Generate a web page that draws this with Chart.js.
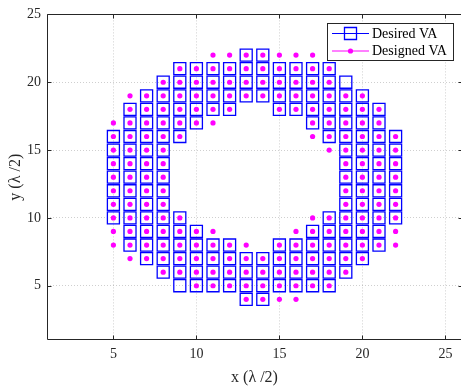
<!DOCTYPE html>
<html><head><meta charset="utf-8">
<script src="https://cdn.jsdelivr.net/npm/chart.js@4/dist/chart.umd.min.js"></script>
<style>html,body{margin:0;padding:0;background:#fff;overflow:hidden;}</style>
</head><body>
<canvas id="c" width="480" height="387"></canvas>
<script>
// ---- data ----
const rowY = [22, 21, 20, 19, 18, 17, 16, 15, 14, 13, 12, 11, 10, 9, 8, 7, 6, 5, 4];
const desiredCols = [
  [13, 14],
  [9, 10, 11, 12, 13, 14, 15, 16, 17, 18],
  [8, 9, 10, 11, 12, 13, 14, 15, 16, 17, 18, 19],
  [7, 8, 9, 10, 11, 12, 13, 14, 15, 16, 17, 18, 19, 20],
  [6, 7, 8, 9, 10, 11, 12, 15, 16, 17, 18, 19, 20, 21],
  [6, 7, 8, 9, 10, 17, 18, 19, 20, 21],
  [5, 6, 7, 8, 9, 18, 19, 20, 21, 22],
  [5, 6, 7, 8, 19, 20, 21, 22],
  [5, 6, 7, 8, 19, 20, 21, 22],
  [5, 6, 7, 8, 19, 20, 21, 22],
  [5, 6, 7, 8, 19, 20, 21, 22],
  [5, 6, 7, 8, 19, 20, 21, 22],
  [5, 6, 7, 8, 9, 18, 19, 20, 21, 22],
  [6, 7, 8, 9, 10, 17, 18, 19, 20, 21],
  [6, 7, 8, 9, 10, 11, 12, 15, 16, 17, 18, 19, 20, 21],
  [7, 8, 9, 10, 11, 12, 13, 14, 15, 16, 17, 18, 19, 20],
  [8, 9, 10, 11, 12, 13, 14, 15, 16, 17, 18, 19],
  [9, 10, 11, 12, 13, 14, 15, 16, 17, 18],
  [13, 14]
];
const designedCols = [
  [11, 12, 13, 14, 15, 16, 17],
  [9, 10, 11, 12, 13, 14, 15, 16, 17, 18],
  [8, 9, 10, 11, 12, 13, 14, 15, 16, 17, 18],
  [6, 7, 8, 9, 10, 11, 12, 13, 14, 15, 16, 17, 18, 19, 20],
  [6, 7, 8, 9, 10, 11, 12, 15, 16, 17, 18, 19, 20, 21],
  [5, 6, 7, 8, 9, 10, 11, 17, 18, 19, 20, 21],
  [5, 6, 7, 8, 9, 17, 18, 19, 20, 21, 22],
  [5, 6, 7, 8, 18, 19, 20, 21, 22],
  [5, 6, 7, 8, 19, 20, 21, 22],
  [5, 6, 7, 8, 19, 20, 21, 22],
  [5, 6, 7, 8, 19, 20, 21, 22],
  [5, 6, 7, 8, 19, 20, 21, 22],
  [5, 6, 7, 8, 9, 17, 18, 19, 20, 21, 22],
  [5, 6, 7, 8, 9, 10, 11, 16, 17, 18, 19, 20, 21, 22],
  [5, 6, 7, 8, 9, 10, 11, 12, 13, 15, 16, 17, 18, 19, 20, 21, 22],
  [6, 7, 8, 9, 10, 11, 12, 13, 14, 15, 16, 17, 18, 19, 20],
  [8, 9, 10, 11, 12, 13, 14, 15, 16, 17, 18, 19],
  [10, 11, 12, 13, 14, 15, 16, 17, 18],
  [13, 14, 15, 16]
];
const xTicks = [5, 10, 15, 20, 25];
const yTicks = [5, 10, 15, 20, 25];
const xRange = [1, 26];
const yRange = [1, 25];
const seriesNames = ['Desired VA', 'Designed VA'];
const xTitle = 'x (\u03BB /2)';
const yTitle = 'y (\u03BB /2)';

function toPoints(cols) {
  const pts = [];
  rowY.forEach((y, i) => cols[i].forEach(x => pts.push({x: x, y: y})));
  return pts;
}

const FONT = 'Liberation Serif, Times New Roman, serif';
const AX = '#262626';

const framePlugin = {
  id: 'frame',
  afterDatasetsDraw(chart) {
    const ctx = chart.ctx, a = chart.chartArea;
    const xs = chart.scales.x, ys = chart.scales.y;
    const L = Math.round(a.left) + 0.5, R = Math.round(a.right) + 0.5;
    const T = Math.round(a.top) + 0.5, B = Math.round(a.bottom) - 0.5;
    ctx.save();
    ctx.strokeStyle = AX; ctx.lineWidth = 1; ctx.setLineDash([]);
    ctx.beginPath();
    ctx.moveTo(L, B); ctx.lineTo(R, B);
    ctx.moveTo(L, T); ctx.lineTo(R, T);
    ctx.moveTo(L, T); ctx.lineTo(L, B);
    ctx.moveTo(R, T); ctx.lineTo(R, B);
    const tl = 4;
    xs.ticks.forEach(t => {
      const px = Math.round(xs.getPixelForValue(t.value)) + 0.5;
      ctx.moveTo(px, B); ctx.lineTo(px, B - tl);
      ctx.moveTo(px, T); ctx.lineTo(px, T + tl);
    });
    ys.ticks.forEach(t => {
      const py = Math.round(ys.getPixelForValue(t.value)) + 0.5;
      ctx.moveTo(L, py); ctx.lineTo(L + tl, py);
      ctx.moveTo(R, py); ctx.lineTo(R - tl, py);
    });
    ctx.stroke();
    ctx.restore();
  },
  afterDraw(chart) {
    const ctx = chart.ctx;
    const bx = 327.5, by = 23.5, bw = 126, bh = 37;
    ctx.save();
    ctx.fillStyle = '#fff';
    ctx.fillRect(bx, by, bw, bh);
    ctx.strokeStyle = AX; ctx.lineWidth = 1;
    ctx.strokeRect(bx, by, bw, bh);
    chart.data.datasets.forEach((ds, i) => {
      const cy = 33.5 + i * 17.5;
      ctx.strokeStyle = ds.borderColor;
      ctx.lineWidth = 1;
      ctx.beginPath(); ctx.moveTo(332, cy); ctx.lineTo(369, cy); ctx.stroke();
      ctx.fillStyle = ds.backgroundColor;
      ctx.lineWidth = ds.borderWidth;
      Chart.helpers.drawPoint(ctx, {pointStyle: ds.pointStyle, radius: ds.pointRadius, rotation: 0, borderWidth: ds.borderWidth}, 350.5, cy);
      ctx.fillStyle = '#000';
      ctx.font = '14px ' + FONT;
      ctx.textBaseline = 'middle';
      ctx.textAlign = 'left';
      ctx.fillText(ds.label, 372, cy + 0.5);
    });
    ctx.restore();
  }
};

const setTicks = (vals) => (scale) => { scale.ticks = vals.map(v => ({value: v})); };

new Chart(document.getElementById('c'), {
  type: 'scatter',
  data: {
    datasets: [
      {
        label: seriesNames[0],
        data: toPoints(desiredCols),
        pointStyle: 'rect',
        pointRadius: 8.5,
        pointHoverRadius: 8.5,
        borderWidth: 1.3,
        borderColor: '#0000ff',
        backgroundColor: 'rgba(0,0,0,0)',
        order: 2
      },
      {
        label: seriesNames[1],
        data: toPoints(designedCols),
        pointStyle: 'circle',
        pointRadius: 2.6,
        pointHoverRadius: 2.6,
        borderWidth: 0,
        borderColor: '#ff00ff',
        backgroundColor: '#ff00ff',
        order: 1
      }
    ]
  },
  options: {
    responsive: false,
    animation: false,
    devicePixelRatio: 1,
    events: [],
    layout: {padding: {top: 13, right: 18, left: 0, bottom: 0}},
    plugins: {legend: {display: false}, tooltip: {enabled: false}},
    scales: {
      x: {
        type: 'linear', min: xRange[0], max: xRange[1],
        afterBuildTicks: setTicks(xTicks),
        afterFit: (s) => { s.height = 47; },
        grid: {color: 'rgba(38,38,38,0.22)', lineWidth: 1, drawTicks: false},
        border: {display: false, dash: [1, 2]},
        ticks: {color: AX, font: {family: FONT, size: 14}, padding: 6, maxRotation: 0},
        title: {display: true, text: xTitle, color: AX, font: {family: FONT, size: 16}, padding: {top: 0, bottom: 0}}
      },
      y: {
        type: 'linear', min: yRange[0], max: yRange[1],
        afterBuildTicks: setTicks(yTicks),
        afterFit: (s) => { s.width = 47; },
        grid: {color: 'rgba(38,38,38,0.22)', lineWidth: 1, drawTicks: false},
        border: {display: false, dash: [1, 2]},
        ticks: {color: AX, font: {family: FONT, size: 14}, padding: 6},
        title: {display: true, text: yTitle, color: AX, font: {family: FONT, size: 16}, padding: {top: 6, bottom: 0}}
      }
    }
  },
  plugins: [framePlugin]
});
</script>
</body></html>
